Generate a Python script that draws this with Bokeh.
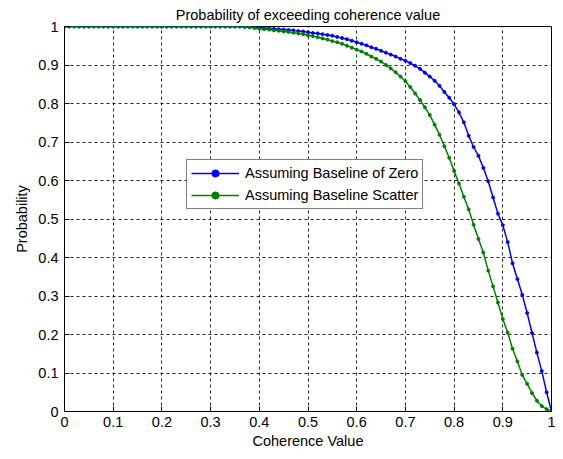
from bokeh.plotting import figure
from bokeh.models import FixedTicker, Legend, LegendItem, Range1d
from bokeh.embed import file_html
from bokeh.resources import INLINE

coherence = [round(i * 0.01, 2) for i in range(101)]

prob_baseline_zero = [
    1.0, 1.0, 1.0, 1.0, 1.0, 1.0, 1.0, 1.0, 1.0, 1.0,
    1.0, 1.0, 1.0, 1.0, 1.0, 1.0, 1.0, 1.0, 1.0, 1.0,
    1.0, 1.0, 1.0, 1.0, 1.0, 1.0, 1.0, 1.0, 1.0, 1.0,
    1.0, 1.0, 1.0, 1.0, 1.0, 1.0, 1.0, 0.999, 0.999, 0.998,
    0.997, 0.996, 0.995, 0.994, 0.993, 0.992, 0.991, 0.990, 0.988, 0.987,
    0.985, 0.983, 0.982, 0.980, 0.978, 0.976, 0.973, 0.970, 0.967, 0.963,
    0.959, 0.955, 0.951, 0.946, 0.942, 0.937, 0.932, 0.927, 0.922, 0.916,
    0.911, 0.905, 0.898, 0.890, 0.880, 0.870, 0.859, 0.846, 0.830, 0.815,
    0.798, 0.777, 0.751, 0.716, 0.687, 0.664, 0.633, 0.598, 0.556, 0.514,
    0.484, 0.440, 0.385, 0.344, 0.303, 0.256, 0.204, 0.153, 0.105, 0.050,
    0.0,
]

prob_baseline_scatter = [
    1.0, 1.0, 1.0, 1.0, 1.0, 1.0, 1.0, 1.0, 1.0, 1.0,
    1.0, 1.0, 1.0, 1.0, 1.0, 1.0, 1.0, 1.0, 1.0, 1.0,
    1.0, 1.0, 1.0, 1.0, 1.0, 1.0, 1.0, 1.0, 1.0, 1.0,
    1.0, 1.0, 1.0, 1.0, 1.0, 1.0, 1.0, 1.0, 0.998, 0.996,
    0.994, 0.993, 0.992, 0.990, 0.989, 0.987, 0.986, 0.984, 0.982, 0.980,
    0.977, 0.975, 0.972, 0.969, 0.966, 0.962, 0.959, 0.955, 0.950, 0.945,
    0.940, 0.935, 0.929, 0.922, 0.916, 0.909, 0.900, 0.891, 0.881, 0.870,
    0.858, 0.843, 0.826, 0.809, 0.790, 0.770, 0.745, 0.719, 0.689, 0.659,
    0.625, 0.592, 0.558, 0.525, 0.485, 0.448, 0.413, 0.366, 0.325, 0.283,
    0.240, 0.205, 0.163, 0.130, 0.095, 0.072, 0.048, 0.028, 0.014, 0.006,
    0.0,
]

x_ticks = [0, 0.1, 0.2, 0.3, 0.4, 0.5, 0.6, 0.7, 0.8, 0.9, 1]
x_tick_labels = ["0", "0.1", "0.2", "0.3", "0.4", "0.5", "0.6", "0.7", "0.8", "0.9", "1"]
y_ticks = [0, 0.1, 0.2, 0.3, 0.4, 0.5, 0.6, 0.7, 0.8, 0.9, 1]
y_tick_labels = ["0", "0.1", "0.2", "0.3", "0.4", "0.5", "0.6", "0.7", "0.8", "0.9", "1"]

series_names = ["Assuming Baseline of Zero", "Assuming Baseline Scatter"]
series_colors = ["#0000ff", "#008000"]

FONT = "Liberation Sans"
FS = "14.5px"

p = figure(
    width=555, height=451,
    output_backend="svg", toolbar_location=None,
    x_range=Range1d(0, 1), y_range=Range1d(0, 1),
    title="Probability of exceeding coherence value",
    min_border_left=64, min_border_right=4,
    min_border_top=26, min_border_bottom=39,
)
p.background_fill_color = "white"
p.border_fill_color = "white"
p.outline_line_color = "black"
p.outline_line_width = 1

p.title.text_font = FONT
p.title.text_font_size = FS
p.title.text_font_style = "normal"
p.title.text_color = "black"
p.title.align = "center"
p.title.standoff = 7

for ax, ticks, labels in ((p.xaxis[0], x_ticks, x_tick_labels), (p.yaxis[0], y_ticks, y_tick_labels)):
    ax.ticker = FixedTicker(ticks=ticks)
    ax.major_label_overrides = {t: l for t, l in zip(ticks, labels)}
    ax.major_tick_in = 5
    ax.major_tick_out = 0
    ax.minor_tick_line_color = None
    ax.axis_line_color = "black"
    ax.major_tick_line_color = "black"
    ax.major_label_text_font = FONT
    ax.major_label_text_font_size = FS
    ax.major_label_text_color = "black"
    ax.axis_label_text_font = FONT
    ax.axis_label_text_font_size = FS
    ax.axis_label_text_font_style = "normal"
    ax.axis_label_text_color = "black"

p.xaxis.axis_label = "Coherence Value"
p.yaxis.axis_label = "Probability"
p.xaxis.major_label_standoff = 5
p.xaxis.axis_label_standoff = 3
p.yaxis.major_label_standoff = 6
p.yaxis.axis_label_standoff = 5

p.grid.grid_line_color = "black"
p.grid.grid_line_alpha = 0.85
p.grid.grid_line_dash = "3 3"
p.grid.grid_line_width = 1

items = []
for ys, name, color in zip((prob_baseline_zero, prob_baseline_scatter), series_names, series_colors):
    r1 = p.line(coherence, ys, line_color=color, line_width=1.5)
    r2 = p.scatter(coherence, ys, marker="circle", size=3, fill_color=color, line_color=color)
    items.append(LegendItem(label=name, renderers=[r1, r2]))

legend = Legend(
    items=items, location=(122, 202),
    label_text_font=FONT, label_text_font_size=FS, label_text_color="black",
    glyph_width=48, glyph_height=18, label_height=18, label_standoff=6,
    spacing=4, padding=4, margin=0,
    border_line_color="black", border_line_width=1,
    background_fill_color="white", background_fill_alpha=1,
)
p.add_layout(legend, "center")

open("out.html", "w").write(file_html(p, INLINE))
